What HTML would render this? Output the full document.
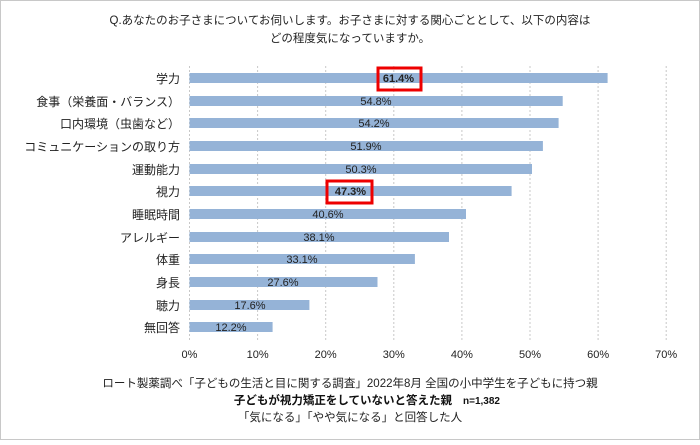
<!DOCTYPE html>
<html><head><meta charset="utf-8"><style>
body{margin:0;background:#fff;}
svg text{font-family:"Liberation Sans","Noto Sans CJK JP",sans-serif;}
</style></head><body>
<svg width="700" height="440" xmlns="http://www.w3.org/2000/svg">
<rect x="0.5" y="0.5" width="699" height="439" fill="#fff" stroke="#c8c8c8"/>
<text x="350" y="24" font-size="11.5" text-anchor="middle" fill="#222">Q.あなたのお子さまについてお伺いします。お子さまに対する関心ごととして、以下の内容は</text>
<text x="350" y="42" font-size="11.5" text-anchor="middle" fill="#222">どの程度気になっていますか。</text>
<g stroke="#c8c8c8" stroke-dasharray="2,2">
<line x1="189.5" y1="66" x2="189.5" y2="340"/><line x1="257.6" y1="66" x2="257.6" y2="340"/><line x1="325.7" y1="66" x2="325.7" y2="340"/><line x1="393.8" y1="66" x2="393.8" y2="340"/><line x1="461.9" y1="66" x2="461.9" y2="340"/><line x1="530" y1="66" x2="530" y2="340"/><line x1="598.1" y1="66" x2="598.1" y2="340"/><line x1="666.2" y1="66" x2="666.2" y2="340"/>
</g>
<g font-size="12" fill="#222" text-anchor="end">
<text x="180" y="83">学力</text><text x="180" y="106">食事（栄養面・バランス）</text><text x="180" y="128">口内環境（虫歯など）</text><text x="180" y="151">コミュニケーションの取り方</text><text x="180" y="174">運動能力</text><text x="180" y="196">視力</text><text x="180" y="219">睡眠時間</text><text x="180" y="242">アレルギー</text><text x="180" y="264">体重</text><text x="180" y="287">身長</text><text x="180" y="310">聴力</text><text x="180" y="332">無回答</text>
</g>
<g fill="#95b3d7">
<rect x="189.5" y="73" width="418.1" height="10"/><rect x="189.5" y="96" width="373.2" height="10"/><rect x="189.5" y="118" width="369.1" height="10"/><rect x="189.5" y="141" width="353.4" height="10"/><rect x="189.5" y="164" width="342.5" height="10"/><rect x="189.5" y="186" width="322.1" height="10"/><rect x="189.5" y="209" width="276.5" height="10"/><rect x="189.5" y="232" width="259.5" height="10"/><rect x="189.5" y="254" width="225.4" height="10"/><rect x="189.5" y="277" width="188" height="10"/><rect x="189.5" y="300" width="119.9" height="10"/><rect x="189.5" y="322" width="83.1" height="10"/>
</g>
<g font-size="11" fill="#222" text-anchor="middle">
<text x="398.5" y="82" font-weight="bold">61.4%</text><text x="376" y="105">54.8%</text><text x="374" y="127">54.2%</text><text x="366" y="150">51.9%</text><text x="361" y="173">50.3%</text><text x="350.5" y="195" font-weight="bold">47.3%</text><text x="328" y="218">40.6%</text><text x="319" y="241">38.1%</text><text x="302" y="263">33.1%</text><text x="283" y="286">27.6%</text><text x="250" y="309">17.6%</text><text x="231" y="331">12.2%</text>
</g>
<rect x="378" y="68" width="43" height="22" fill="none" stroke="#e00" stroke-width="3"/>
<rect x="327" y="181" width="45" height="22" fill="none" stroke="#e00" stroke-width="3"/>
<g font-size="11" fill="#222" text-anchor="middle">
<text x="189.5" y="358">0%</text><text x="257.6" y="358">10%</text><text x="325.7" y="358">20%</text><text x="393.8" y="358">30%</text><text x="461.9" y="358">40%</text><text x="530" y="358">50%</text><text x="598.1" y="358">60%</text><text x="666.2" y="358">70%</text>
</g>
<text x="350" y="387" font-size="11.5" text-anchor="middle" fill="#222">ロート製薬調べ「子どもの生活と目に関する調査」2022年8月 全国の小中学生を子どもに持つ親</text>
<text x="452" y="404" font-size="11.5" text-anchor="end" fill="#111" font-weight="bold">子どもが視力矯正をしていないと答えた親</text>
<text x="463" y="404" font-size="10" fill="#111" font-weight="bold">n=1,382</text>
<text x="350" y="421" font-size="11.5" text-anchor="middle" fill="#222">「気になる」「やや気になる」と回答した人</text>
</svg>
</body></html>
